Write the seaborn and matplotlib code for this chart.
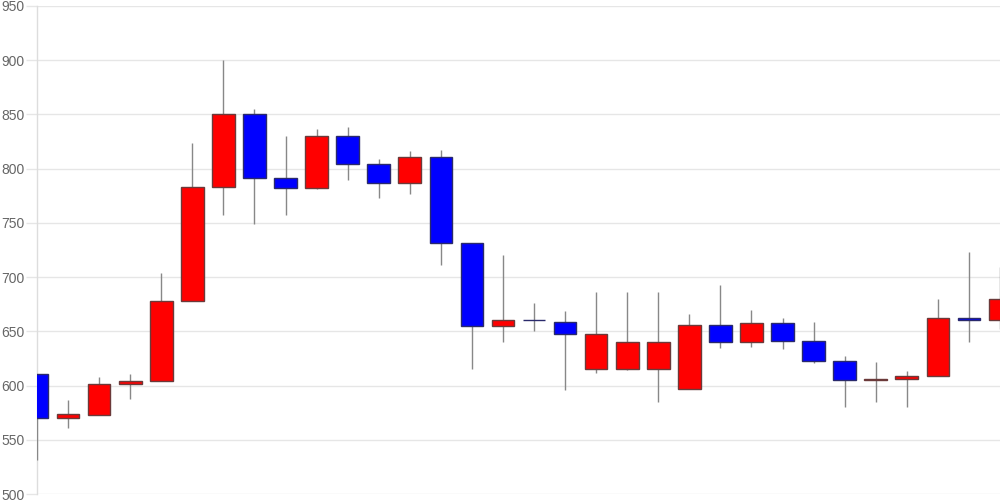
import matplotlib
matplotlib.use("Agg")
import matplotlib.pyplot as plt
import seaborn as sns
import numpy as np
import pandas as pd

# Candle data
opens  = [611, 570, 573, 601, 604, 678, 783, 850, 791, 782, 830, 804, 787, 811, 731, 655,
          660, 659, 615, 615, 615, 597, 656, 640, 658, 641, 623, 605, 606, 609, 662, 660]
closes = [570, 574, 601, 604, 678, 783, 850, 791, 782, 830, 804, 787, 811, 731, 655, 660,
          660, 648, 648, 640, 640, 656, 640, 658, 641, 623, 605, 606, 609, 662, 660, 680]
highs  = [611, 587, 608, 611, 704, 824, 900, 855, 830, 837, 838, 809, 816, 817, 731, 720,
          676, 669, 686, 686, 686, 666, 693, 670, 662, 659, 627, 622, 613, 680, 723, 709]
lows   = [531, 561, 573, 588, 604, 678, 757, 749, 757, 781, 790, 773, 777, 711, 615, 640,
          650, 596, 612, 614, 585, 597, 635, 636, 634, 621, 580, 585, 580, 609, 640, 652]
y_ticks = [500, 550, 600, 650, 700, 750, 800, 850, 900, 950]

df = pd.DataFrame({"open": opens, "close": closes, "high": highs, "low": lows})
df["idx"] = np.arange(len(df))
df["up"] = df["close"] > df["open"]

sns.set_theme(style="white")
plt.rcParams['font.family'] = ['Liberation Sans', 'DejaVu Sans']

fig = plt.figure(figsize=(10, 5), dpi=100)
ax = fig.add_axes([0.037, 0.012, 0.963, 0.976])

# gridlines
for t in y_ticks:
    ax.axhline(t, color="#e6e6e6", lw=1, zorder=0)

# bodies
bottoms = np.minimum(df["open"], df["close"])
heights = np.abs(df["close"] - df["open"])
face = np.where(df["up"], "#ff0000", "#0000ff")
edge = np.where(df["up"], "#6b3a3a", "#2a2a6b")

# wicks
ax.vlines(df["idx"], df["low"], df["high"], color="#888888", lw=1, zorder=3)
ax.bar(df["idx"], heights, bottom=bottoms, width=0.73, color=face,
       edgecolor=edge, linewidth=1, zorder=4)

ax.set_xlim(0, len(df) - 1)
ax.set_ylim(500, 950)
ax.set_yticks(y_ticks)
ax.set_yticklabels([str(t) for t in y_ticks])
ax.set_xticks([])
ax.tick_params(axis="y", left=True, length=8, width=1, color="#e6e6e6",
               pad=1, labelsize=10, labelcolor="#666666")
for s in ["top", "right", "bottom"]:
    ax.spines[s].set_visible(False)
ax.spines["left"].set_color("#dddddd")
ax.spines["left"].set_linewidth(1)
ax.spines["left"].set_zorder(2)
ax.set_xlabel("")
ax.set_ylabel("")

fig.savefig("out.png", dpi=100)
